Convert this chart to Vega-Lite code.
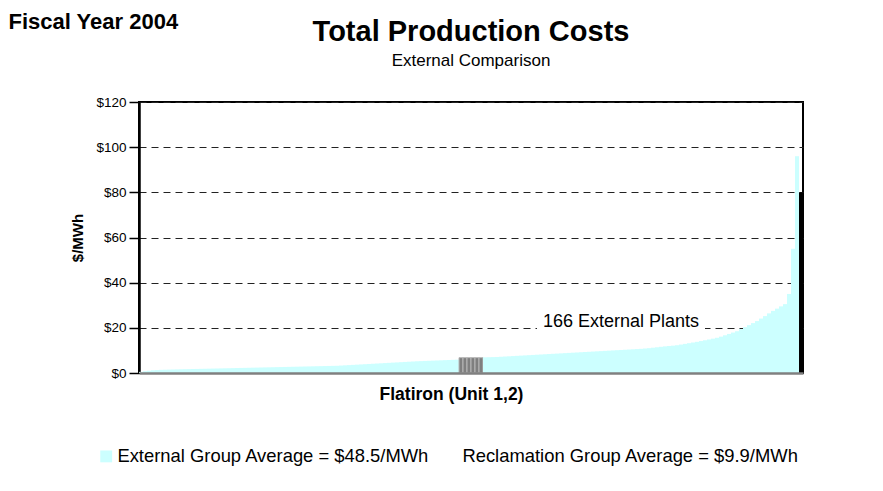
{
  "$schema": "https://vega.github.io/schema/vega-lite/v6.json",
  "width": 664,
  "height": 271,
  "autosize": {"type": "none"},
  "padding": {"left": 139, "top": 102, "right": 80, "bottom": 118},
  "background": "white",
  "config": {
    "font": "Liberation Sans",
    "view": {"stroke": "#000", "strokeWidth": 2},
    "axis": {"labelFont": "Liberation Sans", "titleFont": "Liberation Sans"}
  },
  "title": {
    "text": "Total Production Costs",
    "subtitle": "External Comparison",
    "fontSize": 29,
    "fontWeight": "bold",
    "color": "#000",
    "subtitleFontSize": 17,
    "subtitleColor": "#000",
    "subtitlePadding": 6,
    "anchor": "middle",
    "frame": "group",
    "offset": -59
  },
  "data": {
    "values": [
      {"i": 1, "v": 0.5, "t": "External"},
      {"i": 2, "v": 0.8, "t": "External"},
      {"i": 3, "v": 1.0, "t": "External"},
      {"i": 4, "v": 1.2, "t": "External"},
      {"i": 5, "v": 1.3, "t": "External"},
      {"i": 6, "v": 1.4, "t": "External"},
      {"i": 7, "v": 1.45, "t": "External"},
      {"i": 8, "v": 1.5, "t": "External"},
      {"i": 9, "v": 1.55, "t": "External"},
      {"i": 10, "v": 1.6, "t": "External"},
      {"i": 11, "v": 1.64, "t": "External"},
      {"i": 12, "v": 1.68, "t": "External"},
      {"i": 13, "v": 1.72, "t": "External"},
      {"i": 14, "v": 1.76, "t": "External"},
      {"i": 15, "v": 1.8, "t": "External"},
      {"i": 16, "v": 1.84, "t": "External"},
      {"i": 17, "v": 1.88, "t": "External"},
      {"i": 18, "v": 1.92, "t": "External"},
      {"i": 19, "v": 1.96, "t": "External"},
      {"i": 20, "v": 2.0, "t": "External"},
      {"i": 21, "v": 2.04, "t": "External"},
      {"i": 22, "v": 2.08, "t": "External"},
      {"i": 23, "v": 2.12, "t": "External"},
      {"i": 24, "v": 2.16, "t": "External"},
      {"i": 25, "v": 2.2, "t": "External"},
      {"i": 26, "v": 2.24, "t": "External"},
      {"i": 27, "v": 2.28, "t": "External"},
      {"i": 28, "v": 2.32, "t": "External"},
      {"i": 29, "v": 2.36, "t": "External"},
      {"i": 30, "v": 2.4, "t": "External"},
      {"i": 31, "v": 2.44, "t": "External"},
      {"i": 32, "v": 2.48, "t": "External"},
      {"i": 33, "v": 2.52, "t": "External"},
      {"i": 34, "v": 2.56, "t": "External"},
      {"i": 35, "v": 2.6, "t": "External"},
      {"i": 36, "v": 2.64, "t": "External"},
      {"i": 37, "v": 2.68, "t": "External"},
      {"i": 38, "v": 2.72, "t": "External"},
      {"i": 39, "v": 2.76, "t": "External"},
      {"i": 40, "v": 2.8, "t": "External"},
      {"i": 41, "v": 2.84, "t": "External"},
      {"i": 42, "v": 2.88, "t": "External"},
      {"i": 43, "v": 2.92, "t": "External"},
      {"i": 44, "v": 2.96, "t": "External"},
      {"i": 45, "v": 3.0, "t": "External"},
      {"i": 46, "v": 3.04, "t": "External"},
      {"i": 47, "v": 3.08, "t": "External"},
      {"i": 48, "v": 3.12, "t": "External"},
      {"i": 49, "v": 3.16, "t": "External"},
      {"i": 50, "v": 3.2, "t": "External"},
      {"i": 51, "v": 3.3, "t": "External"},
      {"i": 52, "v": 3.4, "t": "External"},
      {"i": 53, "v": 3.5, "t": "External"},
      {"i": 54, "v": 3.6, "t": "External"},
      {"i": 55, "v": 3.7, "t": "External"},
      {"i": 56, "v": 3.8, "t": "External"},
      {"i": 57, "v": 3.9, "t": "External"},
      {"i": 58, "v": 4.0, "t": "External"},
      {"i": 59, "v": 4.1, "t": "External"},
      {"i": 60, "v": 4.2, "t": "External"},
      {"i": 61, "v": 4.3, "t": "External"},
      {"i": 62, "v": 4.4, "t": "External"},
      {"i": 63, "v": 4.5, "t": "External"},
      {"i": 64, "v": 4.6, "t": "External"},
      {"i": 65, "v": 4.7, "t": "External"},
      {"i": 66, "v": 4.8, "t": "External"},
      {"i": 67, "v": 4.9, "t": "External"},
      {"i": 68, "v": 5.0, "t": "External"},
      {"i": 69, "v": 5.1, "t": "External"},
      {"i": 70, "v": 5.2, "t": "External"},
      {"i": 71, "v": 5.27, "t": "External"},
      {"i": 72, "v": 5.34, "t": "External"},
      {"i": 73, "v": 5.41, "t": "External"},
      {"i": 74, "v": 5.48, "t": "External"},
      {"i": 75, "v": 5.55, "t": "External"},
      {"i": 76, "v": 5.62, "t": "External"},
      {"i": 77, "v": 5.69, "t": "External"},
      {"i": 78, "v": 5.76, "t": "External"},
      {"i": 79, "v": 5.83, "t": "External"},
      {"i": 80, "v": 5.9, "t": "External"},
      {"i": 81, "v": 6.8, "t": "Flatiron"},
      {"i": 82, "v": 6.8, "t": "Flatiron"},
      {"i": 83, "v": 6.8, "t": "Flatiron"},
      {"i": 84, "v": 6.8, "t": "Flatiron"},
      {"i": 85, "v": 6.8, "t": "Flatiron"},
      {"i": 86, "v": 6.8, "t": "Flatiron"},
      {"i": 87, "v": 6.95, "t": "External"},
      {"i": 88, "v": 7.0, "t": "External"},
      {"i": 89, "v": 7.05, "t": "External"},
      {"i": 90, "v": 7.1, "t": "External"},
      {"i": 91, "v": 7.2, "t": "External"},
      {"i": 92, "v": 7.3, "t": "External"},
      {"i": 93, "v": 7.4, "t": "External"},
      {"i": 94, "v": 7.5, "t": "External"},
      {"i": 95, "v": 7.6, "t": "External"},
      {"i": 96, "v": 7.7, "t": "External"},
      {"i": 97, "v": 7.8, "t": "External"},
      {"i": 98, "v": 7.9, "t": "External"},
      {"i": 99, "v": 8.0, "t": "External"},
      {"i": 100, "v": 8.1, "t": "External"},
      {"i": 101, "v": 8.2, "t": "External"},
      {"i": 102, "v": 8.3, "t": "External"},
      {"i": 103, "v": 8.4, "t": "External"},
      {"i": 104, "v": 8.5, "t": "External"},
      {"i": 105, "v": 8.6, "t": "External"},
      {"i": 106, "v": 8.7, "t": "External"},
      {"i": 107, "v": 8.8, "t": "External"},
      {"i": 108, "v": 8.9, "t": "External"},
      {"i": 109, "v": 9.0, "t": "External"},
      {"i": 110, "v": 9.1, "t": "External"},
      {"i": 111, "v": 9.2, "t": "External"},
      {"i": 112, "v": 9.3, "t": "External"},
      {"i": 113, "v": 9.4, "t": "External"},
      {"i": 114, "v": 9.5, "t": "External"},
      {"i": 115, "v": 9.6, "t": "External"},
      {"i": 116, "v": 9.7, "t": "External"},
      {"i": 117, "v": 9.8, "t": "External"},
      {"i": 118, "v": 9.9, "t": "External"},
      {"i": 119, "v": 10.0, "t": "External"},
      {"i": 120, "v": 10.1, "t": "External"},
      {"i": 121, "v": 10.2, "t": "External"},
      {"i": 122, "v": 10.3, "t": "External"},
      {"i": 123, "v": 10.4, "t": "External"},
      {"i": 124, "v": 10.5, "t": "External"},
      {"i": 125, "v": 10.6, "t": "External"},
      {"i": 126, "v": 10.7, "t": "External"},
      {"i": 127, "v": 10.85, "t": "External"},
      {"i": 128, "v": 11.0, "t": "External"},
      {"i": 129, "v": 11.2, "t": "External"},
      {"i": 130, "v": 11.4, "t": "External"},
      {"i": 131, "v": 11.6, "t": "External"},
      {"i": 132, "v": 11.8, "t": "External"},
      {"i": 133, "v": 11.95, "t": "External"},
      {"i": 134, "v": 12.1, "t": "External"},
      {"i": 135, "v": 12.3, "t": "External"},
      {"i": 136, "v": 12.6, "t": "External"},
      {"i": 137, "v": 12.9, "t": "External"},
      {"i": 138, "v": 13.2, "t": "External"},
      {"i": 139, "v": 13.5, "t": "External"},
      {"i": 140, "v": 13.8, "t": "External"},
      {"i": 141, "v": 14.15, "t": "External"},
      {"i": 142, "v": 14.5, "t": "External"},
      {"i": 143, "v": 14.85, "t": "External"},
      {"i": 144, "v": 15.2, "t": "External"},
      {"i": 145, "v": 15.6, "t": "External"},
      {"i": 146, "v": 16.1, "t": "External"},
      {"i": 147, "v": 16.7, "t": "External"},
      {"i": 148, "v": 17.3, "t": "External"},
      {"i": 149, "v": 17.9, "t": "External"},
      {"i": 150, "v": 18.5, "t": "External"},
      {"i": 151, "v": 19.4, "t": "External"},
      {"i": 152, "v": 20.3, "t": "External"},
      {"i": 153, "v": 21.2, "t": "External"},
      {"i": 154, "v": 22.1, "t": "External"},
      {"i": 155, "v": 23.0, "t": "External"},
      {"i": 156, "v": 24.1, "t": "External"},
      {"i": 157, "v": 25.2, "t": "External"},
      {"i": 158, "v": 26.4, "t": "External"},
      {"i": 159, "v": 27.5, "t": "External"},
      {"i": 160, "v": 28.5, "t": "External"},
      {"i": 161, "v": 29.5, "t": "External"},
      {"i": 162, "v": 30.5, "t": "External"},
      {"i": 163, "v": 35, "t": "External"},
      {"i": 164, "v": 55, "t": "External"},
      {"i": 165, "v": 96, "t": "External"},
      {"i": 166, "v": 80, "t": "Other"}
    ]
  },
  "resolve": {"axis": {"x": "independent"}},
  "layer": [
    {
      "mark": {"type": "bar", "strokeWidth": 1},
      "encoding": {
        "x": {
          "field": "i",
          "type": "ordinal",
          "scale": {"paddingInner": 0, "paddingOuter": 0},
          "axis": {
            "orient": "bottom",
            "title": "Flatiron (Unit 1,2)",
            "labels": false,
            "ticks": false,
            "grid": false,
            "domainColor": "#808080",
            "domainWidth": 2.5,
            "titleFontSize": 17.5,
            "titleFontWeight": "bold",
            "titleColor": "#000",
            "titlePadding": 12,
            "titleX": 312,
            "zindex": 1
          }
        },
        "y": {
          "field": "v",
          "type": "quantitative",
          "scale": {"domain": [0, 120]},
          "axis": {
            "values": [0, 20, 40, 60, 80, 100, 120],
            "format": "$.0f",
            "title": "$/MWh",
            "titleFontSize": 15,
            "titleFontWeight": "bold",
            "titleColor": "#000",
            "titlePadding": 10,
            "labelFontSize": 13.5,
            "labelColor": "#000",
            "labelPadding": 3,
            "tickSize": 10,
            "tickColor": "#000",
            "tickWidth": 1.5,
            "domainColor": "#000",
            "domainWidth": 2.5,
            "grid": true,
            "gridColor": "#222",
            "gridDash": [7, 5],
            "gridWidth": 1
          }
        },
        "color": {
          "field": "t",
          "type": "nominal",
          "scale": {"domain": ["External", "Flatiron", "Other", "Reclamation"], "range": ["#CCFFFF", "#7F7F7F", "#000000", "#FFFFFF"]},
          "legend": {
            "orient": "none",
            "legendX": -42,
            "legendY": 345,
            "direction": "horizontal",
            "title": null,
            "values": ["External", "Reclamation"],
            "labelExpr": "datum.value === 'External' ? 'External Group Average = $48.5/MWh' : 'Reclamation Group Average = $9.9/MWh'",
            "labelFontSize": 18.4,
            "labelColor": "#000",
            "labelOffset": 2,
            "labelLimit": 0,
            "columnPadding": 12,
            "symbolType": "square",
            "symbolSize": 140,
            "symbolStrokeWidth": 0,
            "padding": 0
          }
        },
        "stroke": {"condition": {"test": "datum.t === 'Flatiron'", "value": "#B8B8B8"}, "value": "transparent"}
      }
    },
    {
      "data": {"values": [{"box": "label background"}]},
      "mark": {"type": "rect", "fill": "white"},
      "encoding": {
        "x": {
          "datum": 100,
          "type": "ordinal",
          "axis": {
            "orient": "top",
            "domain": false,
            "ticks": false,
            "labels": false,
            "grid": false,
            "title": "Fiscal Year 2004",
            "titleFontSize": 22,
            "titleFontWeight": "bold",
            "titleColor": "#000",
            "titleX": -131,
            "titleY": -74,
            "titleAlign": "left",
            "titleAnchor": "start",
            "titleBaseline": "alphabetic"
          }
        },
        "x2": {"datum": 142},
        "y": {"datum": 17, "type": "quantitative"},
        "y2": {"datum": 24}
      }
    },
    {
      "data": {"values": [{"label": "166 External Plants"}]},
      "mark": {"type": "text", "fontSize": 18, "fill": "#000", "baseline": "alphabetic", "align": "center"},
      "encoding": {
        "x": {"datum": 121, "type": "ordinal", "axis": null},
        "y": {"datum": 20.5, "type": "quantitative"},
        "text": {"field": "label"}
      }
    }
  ]
}
